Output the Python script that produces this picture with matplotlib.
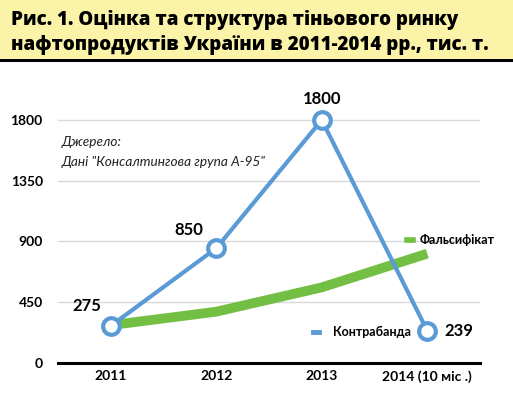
import matplotlib.pyplot as plt
from matplotlib.lines import Line2D
from matplotlib.patches import Rectangle

years = ['2011', '2012', '2013', '2014 (10 міс .)']
contraband = [275, 850, 1800, 239]
falsified = [280, 380, 560, 810]
yticks = [0, 450, 900, 1350, 1800]

blue = '#5b9bd5'
green = '#72bf44'

plt.rcParams['font.family'] = ['Lato', 'DejaVu Sans']

fig = plt.figure(figsize=(5.13, 3.98), dpi=100)

# title banner
fig.patches.append(Rectangle((0, 1 - 59 / 398), 1, 59 / 398, transform=fig.transFigure,
                             facecolor='#faf3a8', edgecolor='none', zorder=0))
fig.patches.append(Rectangle((0, 1 - 62 / 398), 1, 3 / 398, transform=fig.transFigure,
                             facecolor='black', edgecolor='none', zorder=1))
title_font = {'family': ['Open Sans', 'DejaVu Sans'], 'fontsize': 13.5, 'fontweight': 'heavy'}
fig.text(11 / 513, 1 - 20 / 398, 'Рис. 1. Оцінка та структура тіньового ринку',
         va='center', ha='left', **title_font)
fig.text(11 / 513, 1 - 45 / 398, 'нафтопродуктів України в 2011-2014 рр., тис. т.',
         va='center', ha='left', **title_font)

ax = fig.add_axes([58 / 513, 1 - 363 / 398, 422 / 513, 283 / 398])
x = range(len(years))

g, = ax.plot(x, falsified, color=green, lw=7, solid_capstyle='butt', zorder=2)
b, = ax.plot(x, contraband, color=blue, lw=3, marker='o', ms=12, mfc='white',
             mec=blue, mew=3, zorder=3)

ax.set_xlim(-0.5, 3.5)
ax.set_ylim(0, 2096)
ax.set_yticks(yticks)
ax.set_xticks(list(x))
ax.set_xticklabels(years)
ax.grid(axis='y', color='#d9d9d9', lw=1)
ax.set_axisbelow(True)
for s in ['top', 'right', 'left']:
    ax.spines[s].set_visible(False)
ax.spines['bottom'].set_linewidth(2.2)
ax.tick_params(length=0, labelsize=10)
for lbl in ax.get_xticklabels() + ax.get_yticklabels():
    lbl.set_fontweight('bold')
ax.tick_params(axis='y', pad=11)
ax.tick_params(axis='x', pad=5)

offsets = [(-17, 14), (-20, 13), (0, 15), (23, 0)]
for i, v in enumerate(contraband):
    ax.annotate(str(v), (i, v), xytext=offsets[i], textcoords='offset points',
                ha='center', va='center', fontsize=12, fontweight='bold')

ax.text(4 / 422, (363 - 142) / 283, 'Джерело:', transform=ax.transAxes,
        fontsize=9.8, style='italic', color='#222222', va='center')
ax.text(4 / 422, (363 - 162) / 283, 'Дані "Консалтингова група А-95"', transform=ax.transAxes,
        fontsize=9.8, style='italic', color='#222222', va='center')

leg1 = ax.legend([Line2D([], [], color=green, lw=4)], ['Фальсифікат'], loc='center left',
                 bbox_to_anchor=(349 / 422, (363 - 240) / 283), frameon=False,
                 handlelength=0.5, handletextpad=0.5, borderpad=0, borderaxespad=0,
                 prop={'weight': 'bold', 'size': 9})
ax.add_artist(leg1)
ax.legend([Line2D([], [], color=blue, lw=3.5)], ['Контрабанда'], loc='center left',
          bbox_to_anchor=(255 / 422, (363 - 332) / 283), frameon=False,
          handlelength=0.5, handletextpad=1.1, borderpad=0, borderaxespad=0,
          prop={'weight': 'bold', 'size': 9})

fig.savefig('out.png', dpi=100)
